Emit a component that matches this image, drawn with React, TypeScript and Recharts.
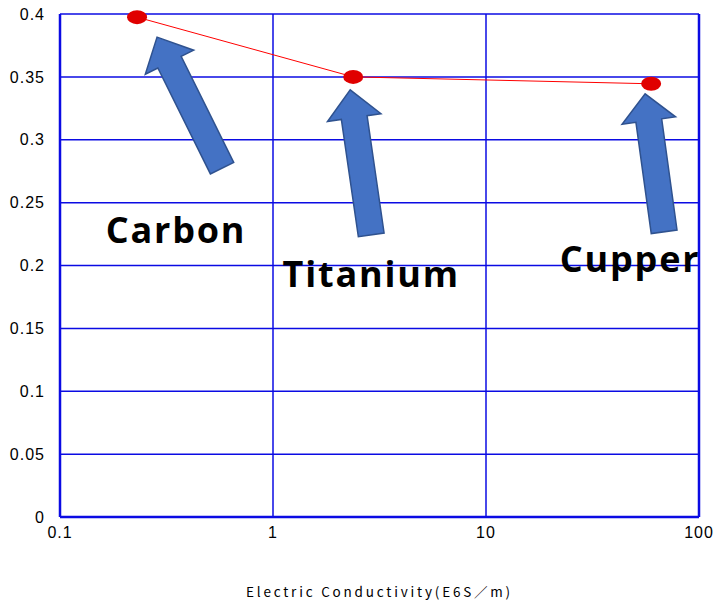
import {
  CartesianGrid,
  Label,
  Line,
  LineChart,
  ReferenceDot,
  XAxis,
  YAxis,
} from 'recharts'

// data
const materials = ['Carbon', 'Titanium', 'Cupper']
const conductivity = [0.23, 2.38, 59.6]
const values = [0.3975, 0.35, 0.3445]

const xTicks = [0.1, 1, 10, 100]
const yTicks = [0, 0.05, 0.1, 0.15, 0.2, 0.25, 0.3, 0.35, 0.4]
const yMinorTicks = [
  0, 0.01, 0.02, 0.03, 0.04, 0.05, 0.06, 0.07, 0.08, 0.09, 0.1, 0.11, 0.12, 0.13,
  0.14, 0.15, 0.16, 0.17, 0.18, 0.19, 0.2, 0.21, 0.22, 0.23, 0.24, 0.25, 0.26,
  0.27, 0.28, 0.29, 0.3, 0.31, 0.32, 0.33, 0.34, 0.35, 0.36, 0.37, 0.38, 0.39,
  0.4,
]

const data = materials.map((name, i) => ({
  name,
  x: conductivity[i],
  y: values[i],
}))

const BLUE = '#0b0be3'
const TICK_FONT = '"Liberation Sans", Arial, sans-serif'

// arrow + caption placement, relative to each point (px)
const callouts: Record<
  string,
  { tip: [number, number]; tail: [number, number]; head: number; text: [number, number] }
> = {
  Carbon: { tip: [20, 20], tail: [85, 151], head: 28, text: [39, 226] },
  Titanium: { tip: [-3, 13], tail: [18, 158], head: 28, text: [18, 210] },
  Cupper: { tip: [-6, 10], tail: [13, 148], head: 27, text: [-21, 188] },
}

function Callout({ cx, cy, name }: { cx?: number; cy?: number; name: string }) {
  if (cx == null || cy == null) return null
  const c = callouts[name]
  const tx = cx + c.tip[0]
  const ty = cy + c.tip[1]
  const bx = cx + c.tail[0]
  const by = cy + c.tail[1]
  const len = Math.hypot(tx - bx, ty - by)
  const dx = (tx - bx) / len
  const dy = (ty - by) / len
  const px = -dy
  const py = dx
  const sw = 13
  const hw = 27
  const hx = tx - dx * c.head
  const hy = ty - dy * c.head
  const pts = [
    [bx + px * sw, by + py * sw],
    [hx + px * sw, hy + py * sw],
    [hx + px * hw, hy + py * hw],
    [tx, ty],
    [hx - px * hw, hy - py * hw],
    [hx - px * sw, hy - py * sw],
    [bx - px * sw, by - py * sw],
  ]
    .map((p) => p.join(','))
    .join(' ')
  return (
    <g>
      <polygon points={pts} fill="#4472c4" stroke="#2f528f" strokeWidth={1.5} />
      <text
        x={cx + c.text[0]}
        y={cy + c.text[1]}
        textAnchor="middle"
        fontFamily='"Open Sans", "Noto Sans", sans-serif'
        fontWeight={700}
        fontSize={36}
        letterSpacing={1.8}
        fill="#000"
      >
        {name}
      </text>
    </g>
  )
}

function PointDot({ cx, cy }: { cx?: number; cy?: number }) {
  if (cx == null || cy == null) return null
  return <ellipse cx={cx} cy={cy} rx={10} ry={7} fill="#e00000" />
}

function XTitle({ viewBox }: { viewBox?: { x: number; y: number; width: number; height: number } }) {
  if (!viewBox) return null
  return (
    <text
      x={viewBox.x + viewBox.width / 2}
      y={viewBox.y + viewBox.height - 7}
      textAnchor="middle"
      fontFamily='"Noto Sans CJK JP", sans-serif'
      fontSize={13.5}
      letterSpacing={2.8}
      fill="#000"
    >
      Electric Conductivity(E6S／m)
    </text>
  )
}

export default function App() {
  return (
    <div style={{ position: 'absolute', left: 0, top: 0, background: '#fff' }}>
      <LineChart
        width={715}
        height={604}
        data={data}
        margin={{ top: 14, right: 16, left: 0, bottom: 0 }}
      >
        <CartesianGrid stroke={BLUE} strokeWidth={1.5} />
        <XAxis
          dataKey="x"
          type="number"
          scale="log"
          domain={[0.1, 100]}
          ticks={xTicks}
          allowDataOverflow
          height={87}
          tickSize={0}
          tickMargin={10}
          axisLine={{ stroke: BLUE, strokeWidth: 2.5 }}
          tick={{ fill: '#000', fontSize: 16, fontFamily: TICK_FONT, letterSpacing: 1 }}
        >
          <Label content={<XTitle />} />
        </XAxis>
        <YAxis
          type="number"
          domain={[0, 0.4]}
          ticks={yTicks}
          width={60}
          tickSize={0}
          tickMargin={15}
          axisLine={{ stroke: BLUE, strokeWidth: 2.5 }}
          tick={{ fill: '#000', fontSize: 16, fontFamily: TICK_FONT, letterSpacing: 1 }}
        />
        <YAxis
          yAxisId="minorL"
          type="number"
          domain={[0, 0.4]}
          ticks={yMinorTicks}
          mirror
          tick={false}
          tickSize={7}
          axisLine={false}
          tickLine={{ stroke: BLUE, strokeWidth: 1.5 }}
        />
        <YAxis
          yAxisId="minorR"
          orientation="right"
          type="number"
          domain={[0, 0.4]}
          ticks={yMinorTicks}
          mirror
          tick={false}
          tickSize={7}
          axisLine={{ stroke: BLUE, strokeWidth: 2.5 }}
          tickLine={{ stroke: BLUE, strokeWidth: 1.5 }}
        />
        {data.map((d) => (
          <ReferenceDot
            key={d.name}
            x={d.x}
            y={d.y}
            r={0}
            shape={(p: { cx?: number; cy?: number }) => (
              <Callout cx={p.cx} cy={p.cy} name={d.name} />
            )}
          />
        ))}
        <Line
          dataKey="y"
          type="linear"
          stroke="#ff0000"
          strokeWidth={1}
          dot={<PointDot />}
          activeDot={false}
          isAnimationActive={false}
        />
      </LineChart>
    </div>
  )
}
